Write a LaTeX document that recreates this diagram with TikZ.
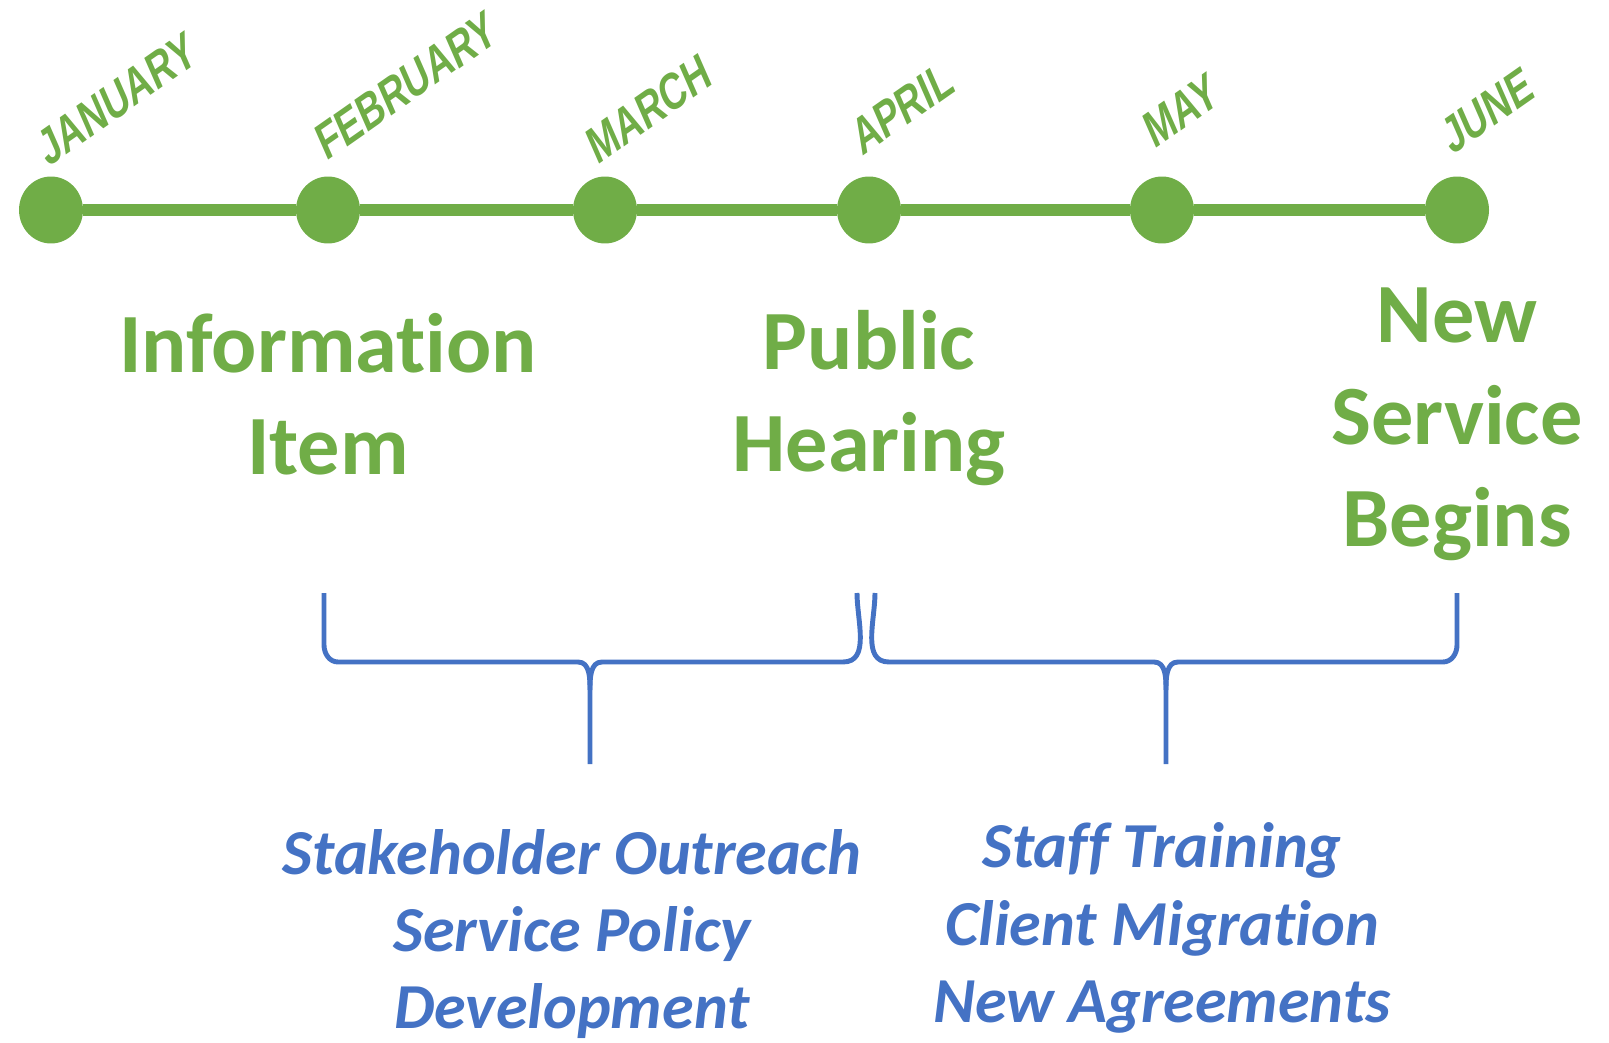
\documentclass[tikz,border=0pt]{standalone}
\usepackage{fontspec}
\setmainfont{Carlito}[Ligatures=NoCommon]
\newfontfamily\monthfont[FakeStretch=0.78]{Liberation Sans}
\usetikzlibrary{shapes.geometric}
\definecolor{tlGreen}{HTML}{70AD47}
\definecolor{tlBlue}{HTML}{4472C4}
\begin{document}
\begin{tikzpicture}[x=0.02cm, y=-0.02cm,
  dotStyle/.style={ellipse, fill=tlGreen, minimum width=1.28cm, minimum height=1.34cm, inner sep=0pt},
  monthStyle/.style={font=\monthfont\bfseries\fontsize{28}{28}\selectfont, text=tlGreen,
    rotate=35, xslant=0.2, anchor=base west, inner sep=0pt},
  mainStyle/.style={font=\bfseries\fontsize{48}{58}\selectfont, text=tlGreen, align=center},
  taskStyle/.style={font=\bfseries\itshape\fontsize{36.5}{44}\selectfont, text=tlBlue, align=center},
  lineStyle/.style={draw=tlGreen, line width=7pt},
  braceStyle/.style={draw=tlBlue, line width=2.8pt, line join=round}]
\useasboundingbox (0,0) rectangle (1609,1043);

\node[dotStyle] (jan) at (51, 210) {};
\node[dotStyle] (feb) at (328, 210) {};
\node[dotStyle] (mar) at (605, 210) {};
\node[dotStyle] (apr) at (869, 210) {};
\node[dotStyle] (may) at (1162, 210) {};
\node[dotStyle] (jun) at (1457, 210) {};
\draw[lineStyle] (jan) -- (feb) -- (mar) -- (apr) -- (may) -- (jun);

\node[monthStyle] (janL) at (48, 168) {JANUARY};
\node[monthStyle] (febL) at (326, 162) {FEBRUARY};
\node[monthStyle] (marL) at (597, 166) {MARCH};
\node[monthStyle] (aprL) at (862, 157) {APRIL};
\node[monthStyle] (mayL) at (1154, 150) {MAY};
\node[monthStyle] (junL) at (1452, 156) {JUNE};

\node[mainStyle] (info)  at (328, 394) {Information\\Item};
\node[mainStyle] (hear)  at (869, 398) {Public\\Hearing};
\node[mainStyle] (begin) at (1457, 424) {New\\Service\\Begins};

\draw[braceStyle] (324,593) -- (324,645) to[out=-90,in=180] (338,662) -- (578,662)
  to[out=0,in=90] (590,690) -- (590,764);
\draw[braceStyle] (857,593) to[out=-90,in=0] (843,662) -- (602,662) to[out=180,in=90] (590,690);
\draw[braceStyle] (875,593) to[out=-90,in=180] (889,662) -- (1154,662)
  to[out=0,in=90] (1166,690) -- (1166,764);
\draw[braceStyle] (1457,593) -- (1457,645) to[out=-90,in=0] (1443,662) -- (1178,662) to[out=180,in=90] (1166,690);

\node[taskStyle] (outreach) at (572, 934) {Stakeholder Outreach\\Service Policy\\Development};
\node[taskStyle] (training) at (1162, 928) {Staff Training\\Client Migration\\New Agreements};
\end{tikzpicture}
\end{document}
